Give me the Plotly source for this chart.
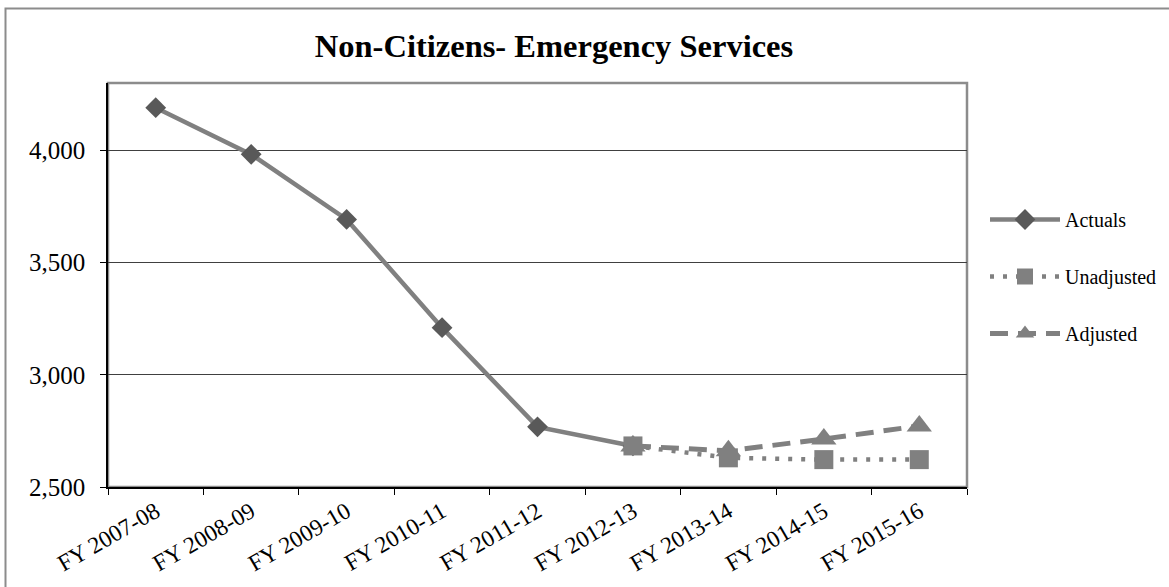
import plotly.graph_objects as go

categories = ["FY 2007-08", "FY 2008-09", "FY 2009-10", "FY 2010-11", "FY 2011-12",
              "FY 2012-13", "FY 2013-14", "FY 2014-15", "FY 2015-16"]
actuals = [4190, 3982, 3692, 3210, 2768, 2683, None, None, None]
unadjusted = [None, None, None, None, None, 2683, 2630, 2622, 2622]
adjusted = [None, None, None, None, None, 2683, 2661, 2714, 2772]
y_ticks = [2500, 3000, 3500, 4000]

FONT = "Liberation Serif, Times New Roman, serif"
W, H = 1169, 587
L, R, T, B = 108, 967, 83, 487
GREY = "#808080"

fig = go.Figure()
fig.add_trace(go.Scatter(
    x=categories, y=actuals, name="Actuals", mode="lines+markers",
    line=dict(color=GREY, width=4.5),
    marker=dict(symbol="diamond", size=16, color="#595959"),
    legendgroup="c",
))
fig.add_trace(go.Scatter(
    x=categories, y=unadjusted, name="Unadjusted", mode="lines+markers",
    line=dict(color=GREY, width=4.5, dash="4px,9px"),
    marker=dict(symbol="square", size=19, color=GREY),
    legendgroup="u",
))
fig.add_trace(go.Scatter(
    x=categories, y=adjusted, name="Adjusted", mode="lines+markers",
    line=dict(color=GREY, width=5, dash="18px,10px"),
    marker=dict(symbol="triangle-up", size=22, color=GREY),
    legendgroup="a",
))

pw = R - L
ph = B - T
def px_x(p):
    return (p - L) / pw
def px_y(p):
    return (B - p) / ph

fig.update_layout(
    width=W, height=H,
    margin=dict(l=L, r=W - R, t=T, b=H - B, autoexpand=False),
    paper_bgcolor="white", plot_bgcolor="white",
    font=dict(family=FONT, color="black"),
    title=dict(text="<b>Non-Citizens- Emergency Services</b>",
               font=dict(family=FONT, size=32.5, color="black"),
               x=554 / W, xref="container", xanchor="center",
               y=1 - 46 / H, yref="container", yanchor="middle"),
    showlegend=True,
    legend=dict(x=985 / W, y=1 - 200 / H, xref="container", yref="container",
                xanchor="left", yanchor="top",
                font=dict(family=FONT, size=20, color="black"),
                itemwidth=70,
                tracegroupgap=28, bgcolor="rgba(0,0,0,0)"),
    xaxis=dict(type="category", categoryorder="array", categoryarray=categories,
               tickson="boundaries", ticks="outside", ticklen=6, tickcolor="black",
               showline=True, linecolor="black", linewidth=1.5,
               tickangle=-30, tickfont=dict(family=FONT, size=23.5),
               showgrid=False, range=[-0.5, 8.5], fixedrange=True),
    yaxis=dict(range=[2500, 4300], tickvals=y_ticks, tickformat=",d",
               ticks="outside", ticklen=6, tickcolor="black",
               showline=True, linecolor="black", linewidth=1.5,
               ticklabelstandoff=10,
               showgrid=True, gridcolor="#404040", gridwidth=1,
               tickfont=dict(family=FONT, size=25), zeroline=False),
    shapes=[
        # plot-area frame (top and right edges in grey)
        dict(type="rect", xref="paper", yref="paper", x0=0, y0=0, x1=1, y1=1,
             line=dict(color="#8c8c8c", width=2.5), layer="below"),
        # outer chart border
        dict(type="rect", xref="paper", yref="paper",
             x0=px_x(5.5), y0=px_y(700), x1=px_x(1400), y1=px_y(8.5),
             line=dict(color="#8c8c8c", width=2), layer="below"),
    ],
)

fig.write_html("out.html")
